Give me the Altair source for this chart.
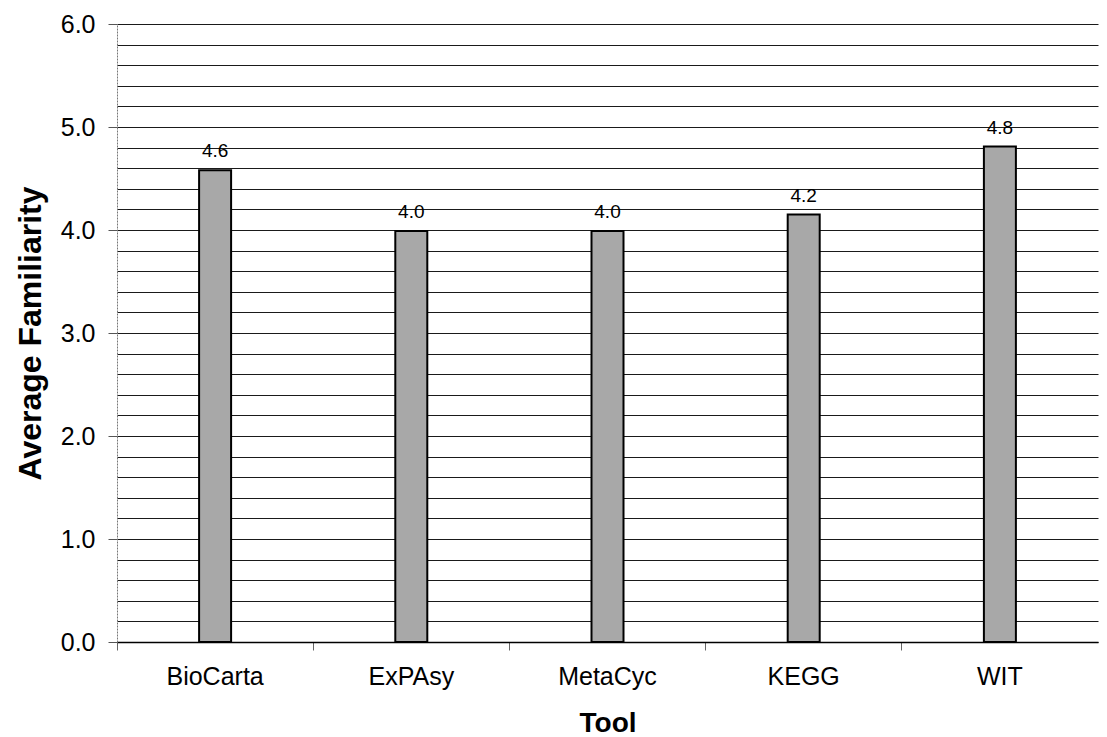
import altair as alt
import pandas as pd

# Average familiarity score per pathway tool
tools = ["BioCarta", "ExPAsy", "MetaCyc", "KEGG", "WIT"]
familiarity = [4.58, 3.99, 3.99, 4.15, 4.81]

# Axis tick values
major_ticks = [0, 1, 2, 3, 4, 5, 6]
grid_ticks = [round(i * 0.2, 1) for i in range(31)]

df = pd.DataFrame({"tool": tools, "value": familiarity})

FONT = "Liberation Sans"
base = alt.Chart(df)

# Invisible layer carrying the 0.2-step gridlines and the between-category ticks
grid = base.mark_bar(opacity=0).encode(
    x=alt.X(
        "tool:N", sort=tools, scale=alt.Scale(paddingInner=0, paddingOuter=0),
        axis=alt.Axis(bandPosition=0, labels=False, title=None, domain=False,
                      tickSize=8, tickColor="#666666", tickWidth=1, orient="bottom"),
    ),
    y=alt.Y(
        "value:Q", scale=alt.Scale(domain=[0, 6]),
        axis=alt.Axis(values=grid_ticks, grid=True, gridColor="#1a1a1a", gridWidth=1,
                      labels=False, ticks=False, domain=False, title=None, orient="left"),
    ),
)

bars = base.mark_bar(size=32, color="#a8a8a8", stroke="#000000", strokeWidth=2).encode(
    x=alt.X(
        "tool:N", sort=tools, scale=alt.Scale(paddingInner=0, paddingOuter=0),
        axis=alt.Axis(title="Tool", ticks=False, labelAngle=0, labelPadding=22,
                      labelFontSize=25, titleFontSize=28,
                      domainColor="#000000", domainWidth=1.5,
                      titlePadding=20, orient="bottom"),
    ),
    y=alt.Y(
        "value:Q", scale=alt.Scale(domain=[0, 6]),
        axis=alt.Axis(values=major_ticks, format=".1f", grid=False, tickSize=9,
                      tickColor="#555555", labelPadding=13, labelFontSize=25,
                      domainColor="#777777", domainDash=[2, 1],
                      title="Average Familiarity", titleFontSize=32,
                      titlePadding=13, orient="left"),
    ),
)

labels = base.mark_text(dy=-13, fontSize=19, font=FONT, color="#000000", baseline="alphabetic").encode(
    x=alt.X("tool:N", sort=tools, axis=None),
    y=alt.Y("value:Q", axis=None),
    text=alt.Text("value:Q", format=".1f"),
)

chart = (
    alt.layer(grid, bars, labels)
    .resolve_axis(x="independent", y="independent")
    .properties(
        width=981,
        height=618,
        autosize=alt.AutoSizeParams(type="none"),
        padding={"left": 117, "top": 24, "right": 9, "bottom": 95},
        background="white",
    )
    .configure_view(stroke=None)
    .configure_axis(
        labelFont=FONT, labelColor="#000000",
        titleFont=FONT, titleFontWeight="bold", titleColor="#000000",
    )
)

chart.save("out.html", embed_options={"renderer": "svg", "actions": False})
